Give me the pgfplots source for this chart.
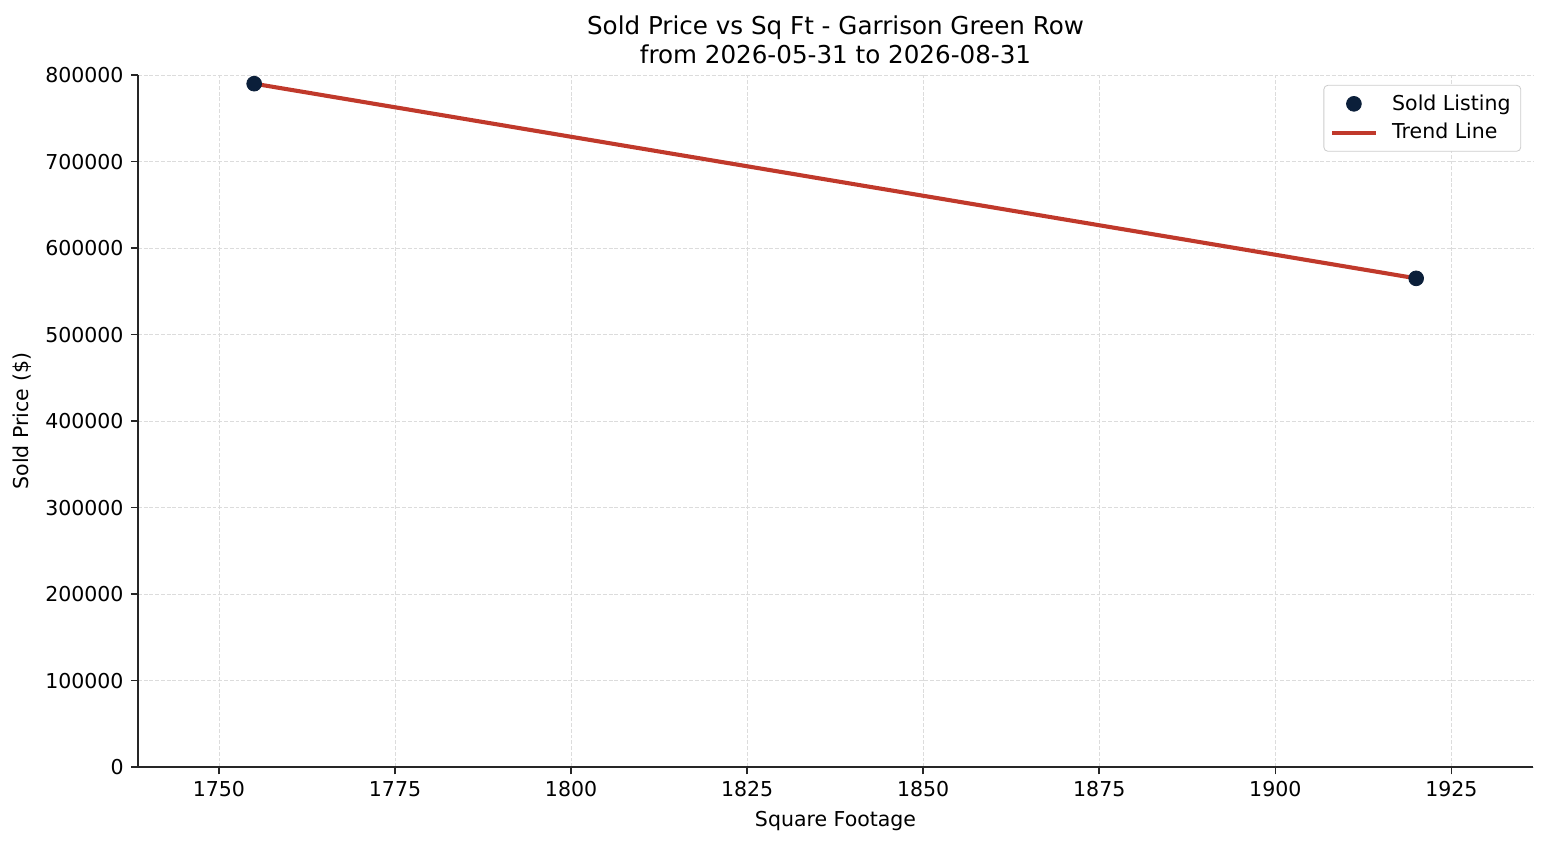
\documentclass[border=0pt]{standalone}
\usepackage{fontspec}
\setmainfont{DejaVu Sans}
\usepackage{pgfplots}
\pgfplotsset{compat=1.18}

\definecolor{navy}{HTML}{0B1F3A}
\definecolor{trendred}{HTML}{C0392B}
\definecolor{gridgray}{HTML}{DCDCDC}

\pgfplotsset{
    trendlegend/.style={legend image code/.code={\draw[##1] (0cm,0cm) -- (0.75cm,0cm);}},
    dotlegend/.style={legend image code/.code={\draw[##1] plot coordinates {(0.375cm,0cm)};}},
}

\begin{document}
\begin{tikzpicture}
\begin{axis}[
    name=main,
    at={(0,0)}, anchor=south west,
    scale only axis,
    width=680.5pt, height=337.6pt,
    xmin=1738.5, xmax=1936.6,
    ymin=0, ymax=800000,
    axis x line*=bottom, axis y line*=left,
    axis line style={line width=0.8pt, color=black!85},
    tick align=outside,
    major tick length=3.5pt,
    every tick/.style={line width=0.8pt, color=black!85},
    xtick={1750,1775,...,1925},
    ytick={0,100000,...,800000},
    scaled y ticks=false,
    /pgf/number format/assume math mode=true,
    xticklabel style={/pgf/number format/.cd, fixed, 1000 sep={}},
    yticklabel style={/pgf/number format/.cd, fixed, 1000 sep={}},
    tick label style={font=\fontsize{10}{12}\selectfont},
    grid=major,
    major grid style={dash pattern=on 1.9pt off 0.9pt, line width=0.4pt, color=gridgray},
    xlabel={Square Footage},
    ylabel={Sold Price (\$)},
    label style={font=\fontsize{10}{12}\selectfont},
    title={Sold Price vs Sq Ft - Garrison Green Row\\from 2026-05-31 to 2026-08-31},
    title style={font=\fontsize{12}{14}\selectfont, align=center, yshift=-4pt},
    legend style={
        at={(axis description cs:1,1)}, anchor=north east,
        xshift=-5.8pt, yshift=-4.8pt,
        draw=black!20, rounded corners=2pt, fill=white,
        font=\fontsize{10}{12}\selectfont,
        inner xsep=3pt, inner ysep=2.5pt,
        row sep=1pt,
        /tikz/every odd column/.append style={column sep=5pt},
        legend cell align=left,
    },
]
\addplot[only marks, mark=*, mark size=3.6pt, color=navy, dotlegend] coordinates {
    (1755,790000) (1920,565000)
};
\addlegendentry{Sold Listing}
\addplot[color=trendred, line width=2pt, trendlegend] coordinates {
    (1755,790000) (1920,565000)
};
\addlegendentry{Trend Line}
\end{axis}
\pgfresetboundingbox
\path (main.south west) ++(-67.3pt,-38.0pt) rectangle ++(754.6pt,412.2pt);
\end{tikzpicture}
\end{document}
